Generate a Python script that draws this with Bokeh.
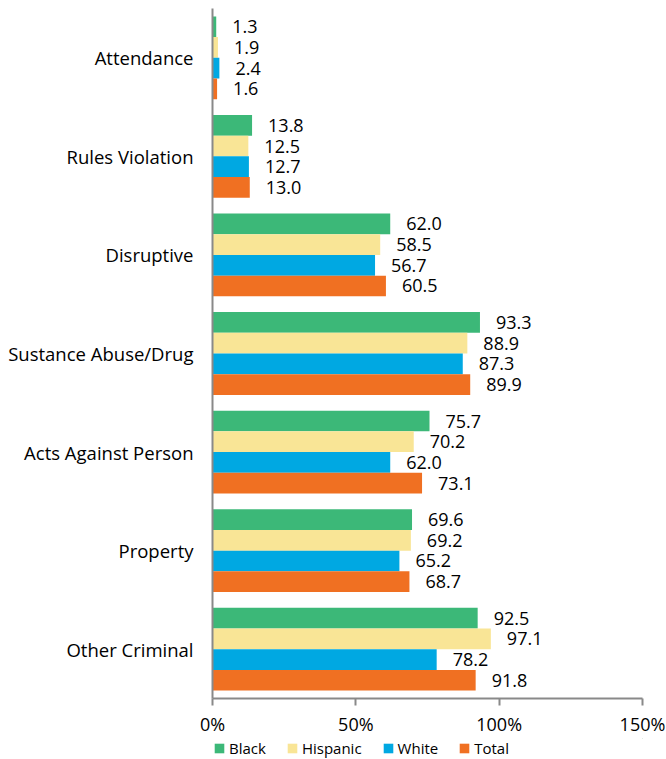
from bokeh.plotting import figure
from bokeh.layouts import column
from bokeh.models import ColumnDataSource, FactorRange, FixedTicker, Legend, LegendItem
from bokeh.transform import dodge
from bokeh.core.properties import value
from bokeh.embed import file_html
from bokeh.resources import INLINE

categories = ["Attendance", "Rules Violation", "Disruptive", "Sustance Abuse/Drug",
              "Acts Against Person", "Property", "Other Criminal"]
black = [1.3, 13.8, 62.0, 93.3, 75.7, 69.6, 92.5]
hispanic = [1.9, 12.5, 58.5, 88.9, 70.2, 69.2, 97.1]
white = [2.4, 12.7, 56.7, 87.3, 62.0, 65.2, 78.2]
total = [1.6, 13.0, 60.5, 89.9, 73.1, 68.7, 91.8]
series_names = ["Black", "Hispanic", "White", "Total"]
series_values = [black, hispanic, white, total]
colors = ["#3CB878", "#F9E596", "#00A8E2", "#F07022"]
x_ticks = [0, 50, 100, 150]
x_tick_labels = ["0%", "50%", "100%", "150%"]

FONT = "Open Sans"

p = figure(width=666, height=738, output_backend="svg", toolbar_location=None,
           y_range=FactorRange(factors=list(reversed(categories))),
           x_range=(0, 150), min_border_left=212, min_border_right=24,
           min_border_top=8, min_border_bottom=38)
p.outline_line_color = None
p.xgrid.grid_line_color = None
p.ygrid.grid_line_color = None

bar_h = 0.21
offsets = [1.5 * bar_h, 0.5 * bar_h, -0.5 * bar_h, -1.5 * bar_h]
for name, vals, col, off in zip(series_names, series_values, colors, offsets):
    src = ColumnDataSource(dict(cat=categories, val=vals,
                                lbl=["%.1f" % v for v in vals]))
    p.hbar(y=dodge("cat", off, range=p.y_range), right="val", height=bar_h,
           source=src, fill_color=col, line_color=None)
    p.text(x="val", y=dodge("cat", off, range=p.y_range), text="lbl", source=src,
           x_offset=16, text_align="left", text_baseline="middle",
           text_font=value(FONT), text_font_size="18px", text_color="#000000")

xa = p.xaxis[0]
xa.ticker = FixedTicker(ticks=x_ticks)
xa.major_label_overrides = {t: l for t, l in zip(x_ticks, x_tick_labels)}
xa.axis_line_color = "#898989"
xa.axis_line_width = 2
xa.major_tick_line_color = "#898989"
xa.major_tick_line_width = 2
xa.major_tick_out = 7
xa.major_tick_in = 0
xa.minor_tick_line_color = None
xa.major_label_text_font = FONT
xa.major_label_text_font_size = "18px"
xa.major_label_text_color = "#000000"
xa.major_label_standoff = 6

ya = p.yaxis[0]
ya.axis_line_color = "#898989"
ya.axis_line_width = 2
ya.major_tick_line_color = None
ya.minor_tick_line_color = None
ya.major_tick_out = 0
ya.major_tick_in = 0
ya.major_label_text_font = FONT
ya.major_label_text_font_size = "18.5px"
ya.major_label_text_color = "#000000"
ya.major_label_standoff = 19

# legend strip below the chart
pl = figure(width=666, height=21, output_backend="svg", toolbar_location=None,
            x_range=(0, 1), y_range=(0, 1), x_axis_location=None, y_axis_location=None,
            min_border_left=184, min_border_right=0, min_border_top=0, min_border_bottom=0)
pl.outline_line_color = None
pl.xgrid.grid_line_color = None
pl.ygrid.grid_line_color = None
items = []
for name, col in zip(series_names, colors):
    r = pl.hbar(y=[100], left=[50], right=[51], height=0.5, fill_color=col, line_color=None)
    items.append(LegendItem(label=name, renderers=[r]))
legend = Legend(items=items, orientation="horizontal", location="bottom_left",
                label_text_font=FONT, label_text_font_size="15px",
                label_text_color="#000000", glyph_width=12, glyph_height=12,
                label_standoff=4, spacing=20, padding=0, margin=1,
                label_height=14,
                border_line_color=None, background_fill_alpha=0)
pl.add_layout(legend, "center")

layout = column(p, pl, spacing=0)
open("out.html", "w").write(file_html(layout, INLINE))
